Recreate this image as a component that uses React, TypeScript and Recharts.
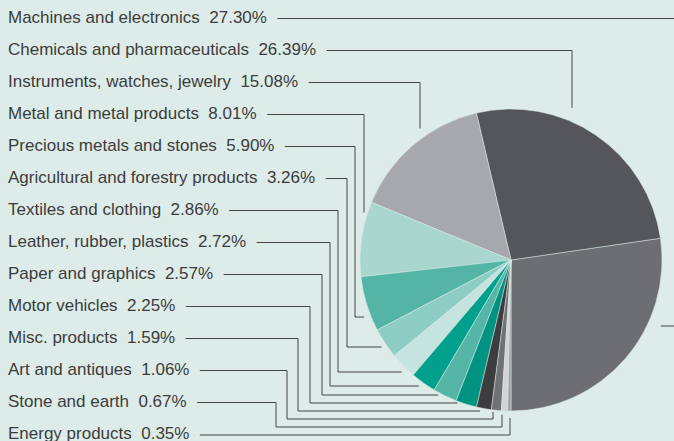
import { PieChart, Pie, Cell } from "recharts";

const categories = [
  "Machines and electronics",
  "Chemicals and pharmaceuticals",
  "Instruments, watches, jewelry",
  "Metal and metal products",
  "Precious metals and stones",
  "Agricultural and forestry products",
  "Textiles and clothing",
  "Leather, rubber, plastics",
  "Paper and graphics",
  "Motor vehicles",
  "Misc. products",
  "Art and antiques",
  "Stone and earth",
  "Energy products",
];

const shares = [27.3, 26.39, 15.08, 8.01, 5.9, 3.26, 2.86, 2.72, 2.57, 2.25, 1.59, 1.06, 0.67, 0.35];

const colors = [
  "#6d6e71",
  "#555659",
  "#a7a8ab",
  "#a9d6cf",
  "#54b5a6",
  "#8ecdc3",
  "#c6e4df",
  "#00a08c",
  "#55b5a7",
  "#009382",
  "#3d3d3f",
  "#707174",
  "#d1d3d4",
  "#9fa0a3",
];

const BG = "#ddece8";
const INK = "#3c3c3c";

// leader-line routing per label (layout only)
type Route = { kind: "wrap" | "down" | "right" | "under"; bx?: number; by?: number; tx?: number; gap: number };
const routes: Route[] = [
  { kind: "wrap", by: 326, gap: 14 },
  { kind: "down", bx: 572, gap: 14 },
  { kind: "down", bx: 420, gap: 11 },
  { kind: "down", bx: 364, gap: 13 },
  { kind: "right", bx: 355, by: 317, gap: 7 },
  { kind: "right", bx: 347, by: 347, gap: 6 },
  { kind: "right", bx: 338, by: 372, gap: 8 },
  { kind: "right", bx: 330, by: 386, gap: 9 },
  { kind: "right", bx: 322, by: 395, gap: 5 },
  { kind: "right", bx: 310, by: 403, gap: 5 },
  { kind: "under", bx: 298, by: 411, tx: 480, gap: 3 },
  { kind: "under", bx: 287, by: 419, tx: 493, gap: 2 },
  { kind: "under", bx: 276, by: 427, tx: 502, gap: 4 },
  { kind: "under", by: 435, tx: 510, gap: 7 },
];

const data = categories.map((name, i) => ({ name, value: shares[i] }));

const renderLabel = (props: any) => {
  const { cx, cy, outerRadius, index } = props;
  const r = outerRadius;
  const baseline = 23 + 32 * index;
  const ly = baseline - 4.5;
  const rt = routes[index];
  const half = (d: number) => Math.sqrt(Math.max(0, r * r - d * d));
  let d = `M 8 ${ly}`;
  if (rt.kind === "wrap") {
    d += ` H 680 V ${rt.by} H ${cx + half(rt.by! - cy) + rt.gap}`;
  } else if (rt.kind === "down") {
    d += ` H ${rt.bx} V ${cy - half(rt.bx! - cx) - rt.gap}`;
  } else if (rt.kind === "right") {
    d += ` H ${rt.bx} V ${rt.by} H ${cx - half(rt.by! - cy) - rt.gap}`;
  } else {
    if (rt.bx !== undefined) d += ` H ${rt.bx} V ${rt.by}`;
    else d = `M 8 ${rt.by}`;
    const endY = Math.min(rt.by!, cy + half(rt.tx! - cx) + rt.gap);
    d += ` H ${rt.tx} V ${endY}`;
  }
  const label = `${categories[index]}\u00a0\u00a0${shares[index].toFixed(2)}%`;
  return (
    <g key={`lbl-${index}`}>
      <path d={d} fill="none" stroke="#454545" strokeWidth={1} />
      <text
        x={8}
        y={baseline}
        fill={INK}
        fontSize={17}
        fontFamily="'Liberation Sans', Arial, sans-serif"
        stroke={BG}
        strokeWidth={22}
        strokeLinejoin="round"
        paintOrder="stroke"
      >
        {label}
      </text>
    </g>
  );
};

export default function App() {
  return (
    <div style={{ position: "absolute", left: 0, top: 0, width: 674, height: 441, background: BG, overflow: "hidden" }}>
      <PieChart width={674} height={441} margin={{ top: 0, right: 0, bottom: 0, left: 0 }}>
        <Pie
          data={data}
          dataKey="value"
          nameKey="name"
          cx={511}
          cy={260}
          outerRadius={151}
          startAngle={-90}
          endAngle={270}
          stroke={BG}
          strokeWidth={0.5}
          label={renderLabel}
          labelLine={false}
          isAnimationActive={false}
        >
          {data.map((_, i) => (
            <Cell key={i} fill={colors[i]} />
          ))}
        </Pie>
      </PieChart>
    </div>
  );
}
